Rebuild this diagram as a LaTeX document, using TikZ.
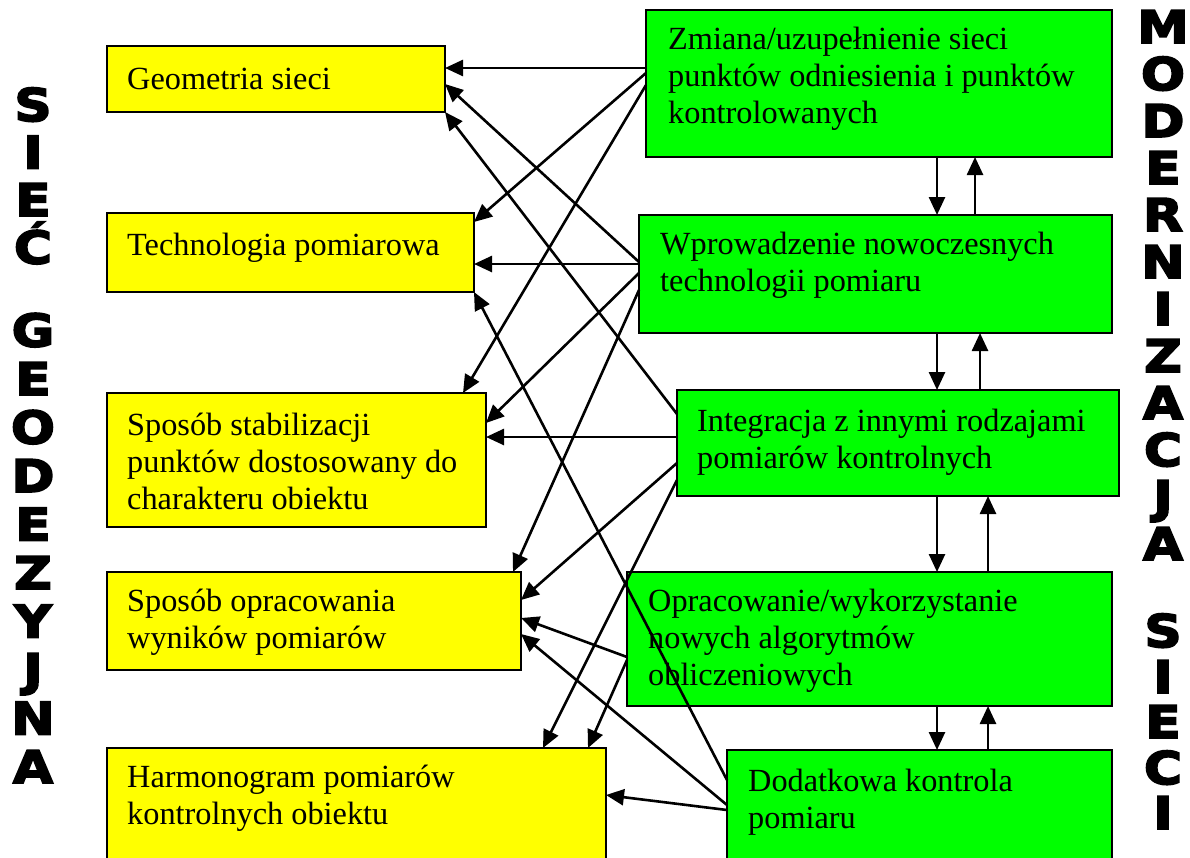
\documentclass[tikz,border=0pt]{standalone}
\usepackage{fontspec}
\setmainfont{Liberation Serif}
\newfontfamily\heavy[BoldFeatures={FakeBold=4,FakeStretch=1.15}]{DejaVu Sans}
\usetikzlibrary{arrows.meta,calc}
\definecolor{ybg}{RGB}{255,255,0}
\definecolor{gbg}{RGB}{0,255,0}
\begin{document}
\begin{tikzpicture}[x=1pt,y=-1pt,
  box/.style={draw=black,line width=1.6pt,anchor=north west,inner sep=0pt,outer sep=0pt},
  ybox/.style={box,fill=ybg},
  gbox/.style={box,fill=gbg},
  lbl/.style={anchor=west,align=left,inner sep=0pt,font=\fontsize{32.3}{37}\selectfont},
  arr/.style={line width=2.6pt,-{Triangle[length=18pt,width=16pt]}},
  vlet/.style={font=\heavy\bfseries\fontsize{45}{45}\selectfont,inner sep=0pt,anchor=base}]
\useasboundingbox (0,0) rectangle (1190,857);
% left boxes
\node[ybox,minimum width=338pt,minimum height=66pt]  (geo)  at (107,46)  {};
\node[ybox,minimum width=367pt,minimum height=79pt]  (tech) at (107,213) {};
\node[ybox,minimum width=379pt,minimum height=134pt] (stab) at (107,393) {};
\node[ybox,minimum width=414pt,minimum height=98pt]  (opr)  at (107,572) {};
\node[ybox,minimum width=499pt,minimum height=112pt] (harm) at (107,748) {};
% right boxes
\node[gbox,minimum width=466pt,minimum height=147pt] (A) at (646,10)  {};
\node[gbox,minimum width=473pt,minimum height=118pt] (B) at (639,215) {};
\node[gbox,minimum width=442pt,minimum height=106pt] (C) at (677,390) {};
\node[gbox,minimum width=485pt,minimum height=134pt] (D) at (627,572) {};
\node[gbox,minimum width=385pt,minimum height=110pt] (E) at (727,750) {};
% texts
\node[lbl] (geot)  at (127,79)  {Geometria sieci};
\node[lbl] (techt) at (127,248) {Technologia pomiarowa};
\node[lbl] (stabt) at (127,461) {Sposób stabilizacji\\punktów dostosowany do\\charakteru obiektu};
\node[lbl] (oprt)  at (127,622) {Sposób opracowania\\wyników pomiarów};
\node[lbl] (harmt) at (127,798) {Harmonogram pomiarów\\kontrolnych obiektu};
\node[lbl] (At) at (668,79)  {Zmiana/uzupełnienie sieci\\punktów odniesienia i punktów\\kontrolowanych};
\node[lbl] (Bt) at (660,265) {Wprowadzenie nowoczesnych\\technologii pomiaru};
\node[lbl] (Ct) at (697,442) {Integracja z innymi rodzajami\\pomiarów kontrolnych};
\node[lbl] (Dt) at (648,641) {Opracowanie/wykorzystanie\\nowych algorytmów\\obliczeniowych};
\node[lbl] (Et) at (748,802) {Dodatkowa kontrola\\pomiaru};
% arrows green -> yellow
\draw[arr] ($(A.north west)+(0,58)$) -- ($(geo.north east)+(0,22)$);
\draw[arr] ($(A.north west)+(0,63)$) -- ($(tech.north east)+(0,9)$);
\draw[arr] ($(A.north west)+(0,75)$) -- ($(stab.north east)+(-23,0)$);
\draw[arr] ($(B.north west)+(0,47)$) -- ($(geo.north east)+(0,38)$);
\draw[arr] ($(B.north west)+(0,49)$) -- ($(tech.north east)+(0,51)$);
\draw[arr] ($(B.north west)+(0,58)$) -- ($(stab.north east)+(0,30)$);
\draw[arr] ($(B.north west)+(0,75)$) -- ($(opr.north east)+(-8,0)$);
\draw[arr] ($(C.north west)+(0,24)$) -- (geo.south east);
\draw[arr] ($(C.north west)+(0,47)$) -- ($(stab.north east)+(0,44)$);
\draw[arr] ($(C.north west)+(0,73)$) -- ($(opr.north east)+(0,28)$);
\draw[arr] ($(C.north west)+(0,90)$) -- ($(harm.north east)+(-63,0)$);
\draw[arr] ($(D.north west)+(0,85)$) -- ($(opr.north east)+(0,46)$);
\draw[arr] ($(D.north west)+(0,88)$) -- ($(harm.north east)+(-18,0)$);
\draw[arr] ($(E.north west)+(0,30)$) -- (tech.south east);
\draw[arr] ($(E.north west)+(0,55)$) -- ($(opr.north east)+(0,62)$);
\draw[arr] ($(E.north west)+(0,60)$) -- ($(harm.north east)+(0,47)$);
% vertical arrows
\draw[arr] ($(A.south west)+(291,0)$) -- ($(B.north west)+(298,0)$);
\draw[arr] ($(B.north west)+(336,0)$) -- ($(A.south west)+(329,0)$);
\draw[arr] ($(B.south west)+(298,0)$) -- ($(C.north west)+(260,0)$);
\draw[arr] ($(C.north west)+(303,0)$) -- ($(B.south west)+(341,0)$);
\draw[arr] ($(C.south west)+(260,0)$) -- ($(D.north west)+(310,0)$);
\draw[arr] ($(D.north west)+(361,0)$) -- ($(C.south west)+(311,0)$);
\draw[arr] ($(D.south west)+(310,0)$) -- ($(E.north west)+(210,0)$);
\draw[arr] ($(E.north west)+(261,0)$) -- ($(D.south west)+(361,0)$);
% vertical titles
\foreach \ch/\yy [count=\i] in {S/105,I/152.5,E/200,Ć/247.5,G/330.5,E/379,O/427.5,D/476,E/524.5,Z/573,Y/621.5,J/670,N/718.5,A/767}
  \node[vlet] (L\i) at (33,\yy+16) {\ch};
\foreach \ch/\yy [count=\i] in {M/27,O/74,D/121,E/168,R/215,N/262,I/309,Z/356,A/403,C/450,J/497,A/544,S/631,I/677,E/722,C/768,I/813}
  \node[vlet] (R\i) at (1163,\yy+16) {\ch};
\end{tikzpicture}
\end{document}
